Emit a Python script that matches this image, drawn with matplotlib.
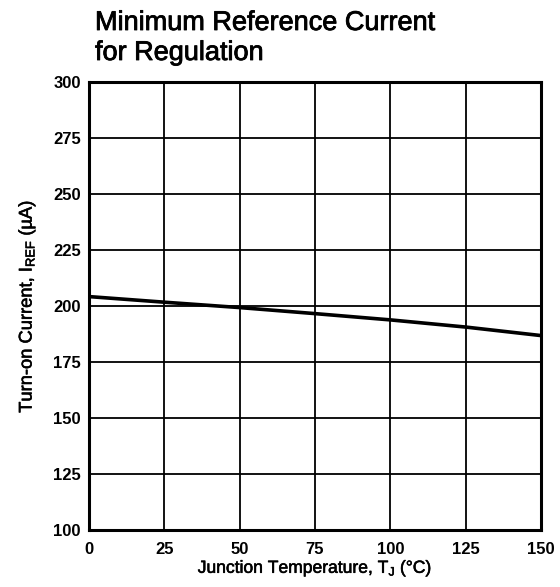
import numpy as np
import matplotlib
matplotlib.use('Agg')
import matplotlib.pyplot as plt
import matplotlib.patheffects as pe

# Data
temp_c = [0, 25, 50, 75, 100, 125, 150]
iref_ua = [204.2, 201.7, 199.3, 196.6, 193.8, 190.6, 186.8]

x_ticks = [0, 25, 50, 75, 100, 125, 150]
y_ticks = [100, 125, 150, 175, 200, 225, 250, 275, 300]

plt.rcParams['font.family'] = ['Liberation Sans', 'DejaVu Sans']
plt.rcParams['mathtext.fontset'] = 'custom'
plt.rcParams['mathtext.rm'] = 'Liberation Sans'
plt.rcParams['mathtext.it'] = 'Liberation Sans'

# slightly heavier than regular, like the medium weight in the original
heavy = [pe.withStroke(linewidth=0.4, foreground='black')]

fig = plt.figure(figsize=(5.6, 5.87), dpi=100)
ax = fig.add_axes([89 / 560, 1 - 530 / 587, (541 - 89) / 560, (530 - 82) / 587])

ax.plot(temp_c, iref_ua, color='black', linewidth=2.6, solid_capstyle='butt')

ax.set_xlim(0, 150)
ax.set_ylim(100, 300)
ax.set_xticks(x_ticks)
ax.set_yticks(y_ticks)
ax.set_xticklabels([str(t) for t in x_ticks], fontsize=12, fontweight='bold')
ax.set_yticklabels([str(t) for t in y_ticks], fontsize=12, fontweight='bold')
ax.tick_params(length=0, pad=6)
ax.tick_params(axis='x', pad=9)

ax.grid(True, color='black', linewidth=1.3)
for s in ax.spines.values():
    s.set_linewidth(2.2)
    s.set_color('black')

xl = ax.set_xlabel('Junction Temperature, T$_\\mathrm{J}$ (°C)', fontsize=12.6, labelpad=1)
yl = ax.set_ylabel('Turn-on Current, I$_\\mathrm{REF}$ (µA)', fontsize=13.2, labelpad=11)
xl.set_path_effects(heavy)
yl.set_path_effects(heavy)

t1 = fig.text(95 / 560, 1 - 30 / 587, 'Minimum Reference Current', fontsize=19.5,
              ha='left', va='baseline')
t2 = fig.text(95 / 560, 1 - 60 / 587, 'for Regulation', fontsize=19.5,
              ha='left', va='baseline')
t1.set_path_effects([pe.withStroke(linewidth=0.6, foreground='black')])
t2.set_path_effects([pe.withStroke(linewidth=0.6, foreground='black')])

fig.savefig('out.png', dpi=100)
